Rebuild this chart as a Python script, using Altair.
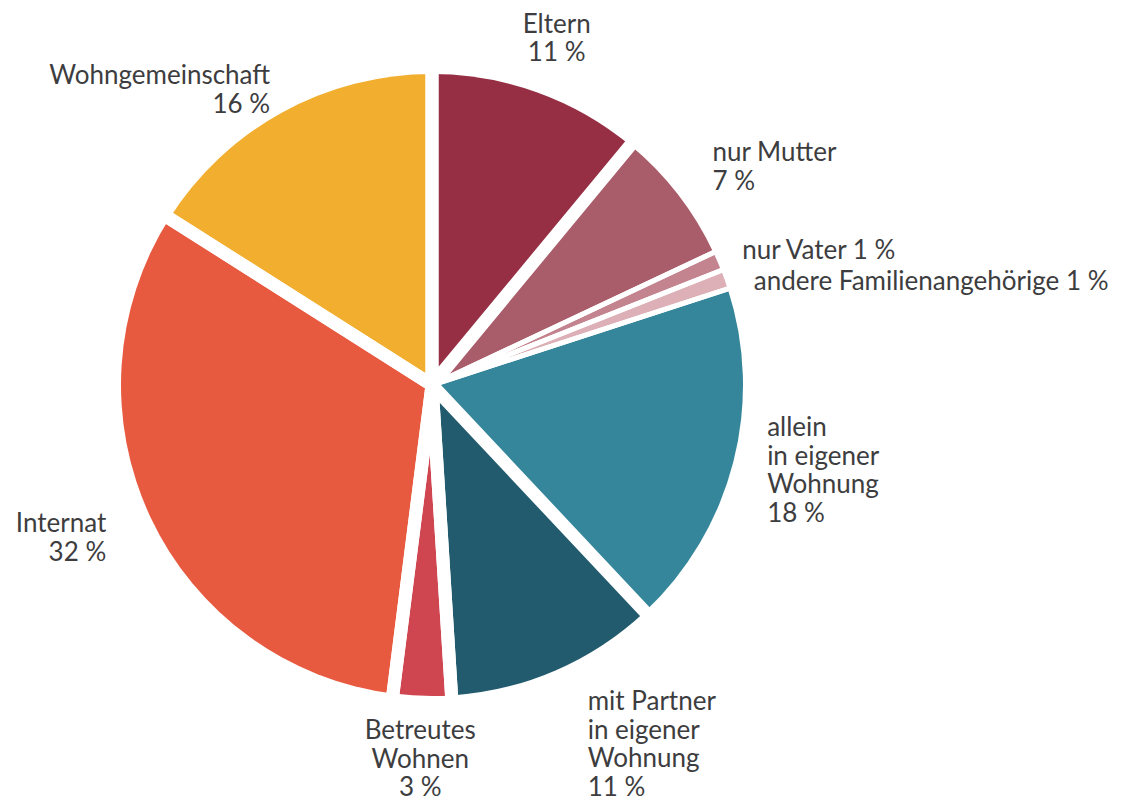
import altair as alt
import pandas as pd

# Wohnsituation – Anteile in Prozent, im Uhrzeigersinn ab 12 Uhr
names = [
    "Eltern",
    "nur Mutter",
    "nur Vater",
    "andere Familienangehörige",
    "allein\nin eigener\nWohnung",
    "mit Partner\nin eigener\nWohnung",
    "Betreutes\nWohnen",
    "Internat",
    "Wohngemeinschaft",
]
shares = [11, 7, 1, 1, 18, 11, 3, 32, 16]
colors = [
    "#962f44", "#a95c69", "#c4848f", "#dcb0b6",
    "#35869b", "#225b6e", "#cf4650", "#e85a40", "#f2ae2e",
]

# Einzeilige Beschriftung für die schmalen Segmente
single_line = {"nur Vater", "andere Familienangehörige"}

df = pd.DataFrame({"name": names, "share": shares})
df["order"] = range(len(df))
df["end"] = df["share"].cumsum()
df["start"] = df["end"] - df["share"]
df["mid"] = df["start"] + df["share"] / 2
df["label"] = [
    f"{n}{' ' if n in single_line else chr(10)}{v} %" for n, v in zip(names, shares)
]

R = 311
FONT = "Lato"
FONT_SIZE = 26
LINE_HEIGHT = 28.5
TEXT_COLOR = "#3d3d40"

theta_scale = alt.Scale(domain=[0, 100], range=[0, 6.283185307179586])
color_scale = alt.Scale(domain=names, range=colors)

base = alt.Chart(df)

# Segmente
slices = base.mark_arc(radius=R).encode(
    theta=alt.Theta("start:Q", scale=theta_scale, stack=False),
    theta2="end:Q",
    color=alt.Color("name:N", scale=color_scale, legend=None),
    order="order:Q",
)

# weiße Trennfugen: breit zwischen den Gruppen, schmal innerhalb der Familie
thin = ["nur Mutter", "nur Vater", "andere Familienangehörige", "allein\nin eigener\nWohnung"]
gaps = base.mark_arc(radius=R + 40, fillOpacity=0, stroke="white", strokeJoin="round").encode(
    theta=alt.Theta("start:Q", scale=theta_scale, stack=False),
    theta2="end:Q",
    strokeWidth=alt.condition(
        alt.FieldOneOfPredicate(field="name", oneOf=thin), alt.value(5), alt.value(13)
    ),
    order="order:Q",
)


def labels(members, align, baseline, radius):
    # mehrzeilige Blöcke um den Ankerpunkt zentrieren
    n_lines = df.loc[df["name"] == members[0], "label"].iloc[0].count("\n") + 1
    shift = -(n_lines - 1) * LINE_HEIGHT / 2 if baseline == "middle" else 0
    return (
        base.transform_filter(alt.FieldOneOfPredicate(field="name", oneOf=members))
        .mark_text(
            radius=radius,
            align=align,
            baseline=baseline,
            dy=shift,
            lineBreak="\n",
            lineHeight=LINE_HEIGHT,
            font=FONT,
            fontSize=FONT_SIZE,
            color=TEXT_COLOR,
        )
        .encode(
            theta=alt.Theta("mid:Q", scale=theta_scale, stack=False),
            text="label:N",
        )
    )


text_layers = [
    labels(["Eltern"], "center", "middle", 368),
    labels(["nur Mutter"], "left", "middle", 355),
    labels(["nur Vater"], "left", "middle", 338),
    labels(["andere Familienangehörige"], "left", "top", 342),
    labels(["allein\nin eigener\nWohnung"], "left", "middle", 346),
    labels(["mit Partner\nin eigener\nWohnung"], "left", "middle", 392),
    labels(["Betreutes\nWohnen"], "center", "middle", 375),
    labels(["Internat"], "right", "middle", 360),
    labels(["Wohngemeinschaft"], "right", "middle", 336),
]

chart = (
    alt.layer(slices, gaps, *text_layers)
    .properties(
        width=864,
        height=770,
        autosize=alt.AutoSizeParams(type="none"),
        padding={"left": 0, "top": 0, "right": 264, "bottom": 33},
        background="white",
    )
    .configure_view(stroke=None)
)

chart.save("out.html", embed_options={"renderer": "svg", "actions": False})
